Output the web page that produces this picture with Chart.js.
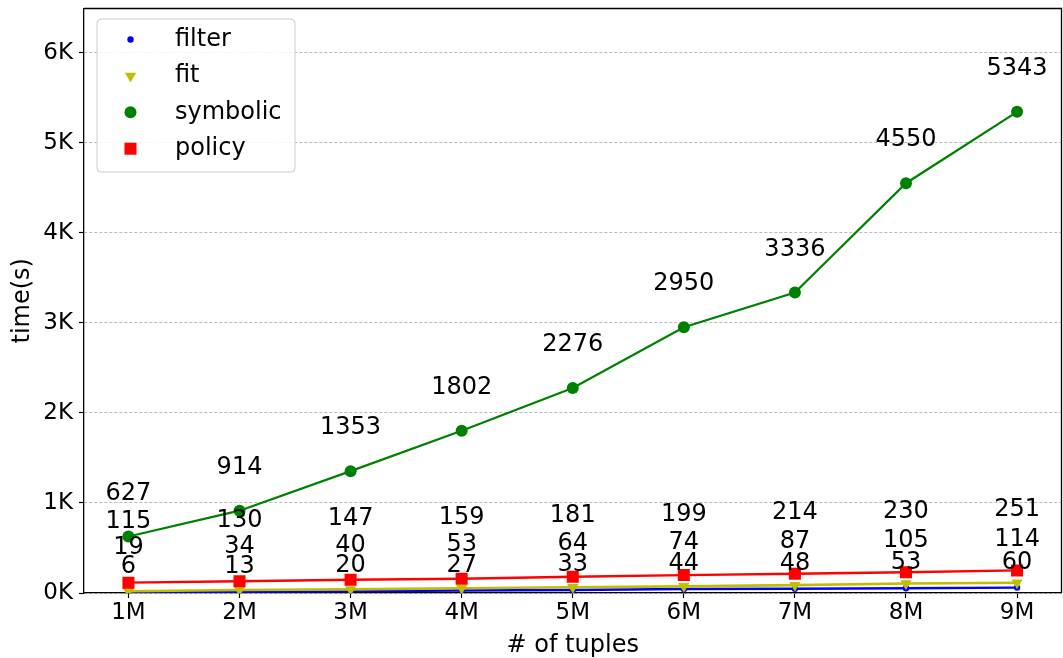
<!DOCTYPE html>
<html>
<head>
<meta charset="utf-8">
<script src="https://cdn.jsdelivr.net/npm/chart.js@4.4.1/dist/chart.umd.min.js"></script>
<style>
  html, body { margin: 0; padding: 0; background: #fff; }
  #wrap { width: 1063px; height: 658px; overflow: hidden; position: relative; }
  canvas { display: block; }
</style>
</head>
<body>
<div id="wrap"><canvas id="chart" width="1070" height="658"></canvas></div>
<script>
// Number of tuples (millions) and their tick labels
const tupleCounts = [1, 2, 3, 4, 5, 6, 7, 8, 9];
const categories = ['1M', '2M', '3M', '4M', '5M', '6M', '7M', '8M', '9M'];

// Running time in seconds per stage
const filterTimes   = [6, 13, 20, 27, 33, 44, 48, 53, 60];
const fitTimes      = [19, 34, 40, 53, 64, 74, 87, 105, 114];
const symbolicTimes = [627, 914, 1353, 1802, 2276, 2950, 3336, 4550, 5343];
const policyTimes   = [115, 130, 147, 159, 181, 199, 214, 230, 251];

// Y axis ticks
const yTickValues = [0, 1000, 2000, 3000, 4000, 5000, 6000];
const yTickLabels = ['0K', '1K', '2K', '3K', '4K', '5K', '6K'];

const FONT = "'DejaVu Sans', sans-serif";

// How far above each point (in seconds) its value label sits
const labelLift = { filter: 280, fit: 480, symbolic: 480, policy: 675 };

const toPoints = vals => vals.map((v, i) => ({ x: tupleCounts[i], y: v }));

const seriesDefs = [
  { key: 'filter',   label: 'filter',   values: filterTimes,   color: '#0000ff', style: 'circle',   radius: 3.2, rot: 0,   width: 2.4, order: 3 },
  { key: 'fit',      label: 'fit',      values: fitTimes,      color: '#bfbf00', style: 'triangle', radius: 6.5, rot: 180, width: 2.6, order: 2 },
  { key: 'symbolic', label: 'symbolic', values: symbolicTimes, color: '#008000', style: 'circle',   radius: 6,   rot: 0,   width: 2.2, order: 1 },
  { key: 'policy',   label: 'policy',   values: policyTimes,   color: '#ff0000', style: 'rect',     radius: 8.5, rot: 0,   width: 2.4, order: 0 }
];

const datasets = seriesDefs.map(s => ({
  label: s.label,
  key: s.key,
  data: toPoints(s.values),
  borderColor: s.color,
  backgroundColor: s.color,
  borderWidth: s.width,
  pointStyle: s.style,
  pointRadius: s.radius,
  pointRotation: s.rot,
  pointBorderWidth: 0,
  pointBackgroundColor: s.color,
  tension: 0,
  order: s.order
}));

// Value labels above every point
const valueLabels = {
  id: 'valueLabels',
  afterDatasetsDraw(chart) {
    const { ctx, scales: { x, y } } = chart;
    ctx.save();
    ctx.font = '24px ' + FONT;
    ctx.fillStyle = '#000';
    ctx.textAlign = 'center';
    ctx.textBaseline = 'middle';
    chart.data.datasets.forEach(ds => {
      const lift = labelLift[ds.key];
      ds.data.forEach(p => {
        ctx.fillText(String(p.y), x.getPixelForValue(p.x), y.getPixelForValue(p.y + lift));
      });
    });
    ctx.restore();
  }
};

// Top and right spines of the axes box
const frame = {
  id: 'frame',
  afterDraw(chart) {
    const { ctx, chartArea: a } = chart;
    ctx.save();
    ctx.strokeStyle = '#000';
    ctx.lineWidth = 1.3;
    ctx.beginPath();
    ctx.moveTo(a.left, a.top);
    ctx.lineTo(a.right, a.top);
    ctx.lineTo(a.right, a.bottom);
    ctx.stroke();
    ctx.restore();
  }
};

function drawMarker(ctx, def, cx, cy) {
  ctx.fillStyle = def.color;
  ctx.beginPath();
  if (def.style === 'circle') {
    ctx.arc(cx, cy, def.radius, 0, Math.PI * 2);
  } else if (def.style === 'rect') {
    const h = def.radius * Math.SQRT1_2;
    ctx.rect(cx - h, cy - h, 2 * h, 2 * h);
  } else if (def.style === 'triangle') {
    const r = def.radius;
    ctx.moveTo(cx - r * 0.866, cy - r * 0.5);
    ctx.lineTo(cx + r * 0.866, cy - r * 0.5);
    ctx.lineTo(cx, cy + r);
    ctx.closePath();
  }
  ctx.fill();
}

// Legend box in the upper-left corner
const legendBox = {
  id: 'legendBox',
  afterDraw(chart) {
    const { ctx } = chart;
    const bx = 97, by = 19, bw = 198, bh = 153, r = 4;
    ctx.save();
    ctx.beginPath();
    ctx.moveTo(bx + r, by);
    ctx.lineTo(bx + bw - r, by);
    ctx.arcTo(bx + bw, by, bx + bw, by + r, r);
    ctx.lineTo(bx + bw, by + bh - r);
    ctx.arcTo(bx + bw, by + bh, bx + bw - r, by + bh, r);
    ctx.lineTo(bx + r, by + bh);
    ctx.arcTo(bx, by + bh, bx, by + bh - r, r);
    ctx.lineTo(bx, by + r);
    ctx.arcTo(bx, by, bx + r, by, r);
    ctx.closePath();
    ctx.fillStyle = 'rgba(255,255,255,0.85)';
    ctx.fill();
    ctx.strokeStyle = '#cccccc';
    ctx.lineWidth = 1;
    ctx.stroke();

    ctx.font = '24px ' + FONT;
    ctx.textAlign = 'left';
    ctx.textBaseline = 'middle';
    seriesDefs.forEach((def, i) => {
      const cy = 39.5 + i * 36.4;
      drawMarker(ctx, def, 130.5, cy);
      ctx.fillStyle = '#000';
      ctx.fillText(def.label, 175, cy);
    });
    ctx.restore();
  }
};

new Chart(document.getElementById('chart'), {
  type: 'line',
  data: { datasets },
  plugins: [valueLabels, frame, legendBox],
  options: {
    responsive: false,
    animation: false,
    events: [],
    layout: { padding: { left: 0, right: 4, top: 7, bottom: 0 } },
    plugins: { legend: { display: false }, tooltip: { enabled: false } },
    scales: {
      x: {
        type: 'linear',
        min: 0.6,
        max: 9.4,
        afterBuildTicks: s => { s.ticks = tupleCounts.map(v => ({ value: v })); },
        afterFit: s => { s.height = 65; s.paddingLeft = 0; s.paddingRight = 0; },
        grid: { drawOnChartArea: false, drawTicks: true, tickLength: 5, tickColor: '#000', tickWidth: 1.2 },
        border: { color: '#000', width: 1.3 },
        ticks: {
          color: '#000',
          padding: 1,
          maxRotation: 0,
          font: { family: FONT, size: 23 },
          callback: v => categories[tupleCounts.indexOf(v)]
        },
        title: {
          display: true,
          text: '# of tuples',
          color: '#000',
          font: { family: FONT, size: 24, lineHeight: 1.0 },
          padding: { top: 0, bottom: 0 }
        }
      },
      y: {
        min: 0,
        max: 6490,
        afterBuildTicks: s => { s.ticks = yTickValues.map(v => ({ value: v })); },
        afterFit: s => { s.width = 84; s.paddingTop = 0; s.paddingBottom = 0; },
        grid: {
          color: '#a8a8a8',
          lineWidth: 0.8,
          drawTicks: true,
          tickLength: 5,
          tickColor: '#000',
          tickWidth: 1.2,
          tickBorderDash: []
        },
        border: { color: '#000', width: 1.3, dash: [3, 2] },
        ticks: {
          color: '#000',
          padding: 6,
          font: { family: FONT, size: 23 },
          callback: v => yTickLabels[yTickValues.indexOf(v)]
        },
        title: {
          display: true,
          text: 'time(s)',
          color: '#000',
          font: { family: FONT, size: 24 },
          padding: { top: 8, bottom: 0 }
        }
      }
    }
  }
});
</script>
</body>
</html>
